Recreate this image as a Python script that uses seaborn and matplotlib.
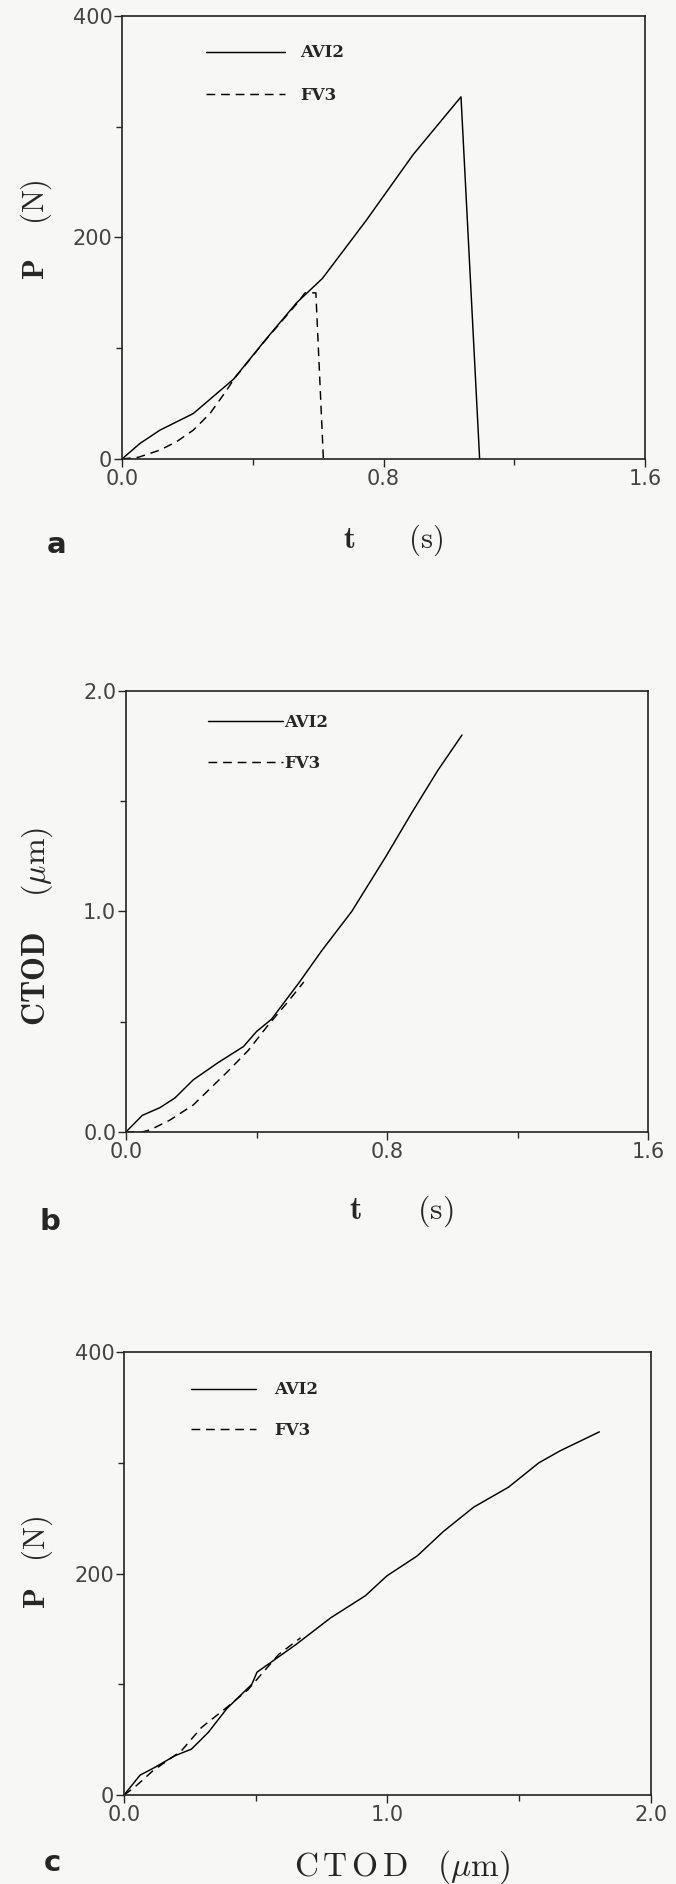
import numpy as np
import pandas as pd
import seaborn as sns
import matplotlib.pyplot as plt
from matplotlib.ticker import MultipleLocator, FormatStrFormatter

sns.set_style('ticks')
plt.rcParams['font.family'] = ['DejaVu Sans']
plt.rcParams['mathtext.fontset'] = 'cm'

# panel a: load P (N) against time t (s)
t_avi2_a = [0, 0.055, 0.116, 0.218, 0.341, 0.44, 0.534, 0.613, 0.746, 0.891, 1.037, 1.094]
p_avi2_a = [0, 14, 26, 41, 72, 108, 141, 163, 215, 275, 327, 0]
t_fv3_a = [0, 0.05, 0.116, 0.167, 0.218, 0.269, 0.32, 0.342, 0.441, 0.534, 0.56, 0.593, 0.616]
p_fv3_a = [0, 1.5, 8, 15.6, 26, 41, 62, 72, 108, 140, 150, 150, 0]

# panel b: CTOD (um) against time t (s)
t_avi2_b = [0, 0.05, 0.104, 0.15, 0.206, 0.282, 0.36, 0.4, 0.446, 0.532, 0.599, 0.692, 0.797, 0.877, 0.956, 1.03]
c_avi2_b = [0, 0.075, 0.11, 0.154, 0.236, 0.314, 0.387, 0.455, 0.511, 0.68, 0.82, 1.0, 1.25, 1.45, 1.64, 1.80]
t_fv3_b = [0, 0.05, 0.074, 0.135, 0.206, 0.309, 0.375, 0.435, 0.494, 0.545]
c_fv3_b = [0, 0, 0.009, 0.054, 0.122, 0.27, 0.37, 0.483, 0.586, 0.68]

# panel c: load P (N) against CTOD (um)
c_avi2_c = [0, 0.061, 0.117, 0.193, 0.256, 0.32, 0.39, 0.485, 0.505, 0.653, 0.784, 0.916, 0.998,
            1.113, 1.212, 1.327, 1.459, 1.574, 1.656, 1.804]
p_avi2_c = [0, 18, 25, 35.5, 41.5, 56.6, 78, 100, 111, 136, 160, 180, 198,
            216, 238, 260, 278, 300, 311, 328]
c_fv3_c = [0, 0.04, 0.11, 0.218, 0.294, 0.384, 0.47, 0.587, 0.67]
p_fv3_c = [0, 7, 22, 40, 61, 78, 95, 127, 142]

TICK_COLOR = '#444444'


def make_df(x1, y1, x2, y2):
    d1 = pd.DataFrame({'x': x1, 'y': y1, 'specimen': 'AVI2'})
    d2 = pd.DataFrame({'x': x2, 'y': y2, 'specimen': 'FV3'})
    return d1, d2


def draw_panel(ax, d1, d2, xmax, ymax, xmaj, ymaj, leg_pos, handlelength, textpad, spacing):
    sns.lineplot(data=d1, x='x', y='y', ax=ax, color='k', lw=1.05, sort=False,
                 estimator=None, label='AVI2')
    sns.lineplot(data=d2, x='x', y='y', ax=ax, color='k', lw=1.05, sort=False,
                 estimator=None, label='FV3', linestyle=(0, (6, 4)))
    ax.set_xlim(0, xmax)
    ax.set_ylim(0, ymax)
    ax.xaxis.set_major_locator(MultipleLocator(xmaj))
    ax.xaxis.set_minor_locator(MultipleLocator(xmaj / 2))
    ax.yaxis.set_major_locator(MultipleLocator(ymaj))
    ax.yaxis.set_minor_locator(MultipleLocator(ymaj / 2))
    ax.tick_params(which='major', length=5.5, width=1.0, direction='out',
                   labelsize=15, labelcolor=TICK_COLOR, pad=1.5)
    ax.tick_params(which='minor', length=4, width=1.0, direction='out')
    for sp in ax.spines.values():
        sp.set_visible(True)
        sp.set_linewidth(1.2)
        sp.set_color('#222222')
    ax.set_facecolor('none')
    ax.legend(loc='upper left', bbox_to_anchor=leg_pos, frameon=False,
              borderpad=0, borderaxespad=0, handlelength=handlelength,
              handletextpad=textpad, labelspacing=spacing,
              prop={'family': 'DejaVu Serif', 'weight': 'bold', 'size': 12})


def place_labels(ax, xlab, ylab, xsize, ysize, xpos, ypos):
    ax.set_xlabel(xlab, fontsize=xsize)
    ax.set_ylabel(ylab, fontsize=ysize)
    ax.xaxis.label.set_va('center')
    ax.yaxis.label.set_va('center')
    ax.xaxis.set_label_coords(*xpos)
    ax.yaxis.set_label_coords(*ypos)


fig = plt.figure(figsize=(6.76, 18.84), dpi=100, facecolor='#f7f8f5')

# a
ax_a = fig.add_axes([0.1805, 0.7564, 0.7737, 0.2351])
da1, da2 = make_df(t_avi2_a, p_avi2_a, t_fv3_a, p_fv3_a)
draw_panel(ax_a, da1, da2, 1.6, 400, 0.8, 200, (0.161, 0.936), 4.7, 0.96, 1.54)
ax_a.xaxis.set_major_formatter(FormatStrFormatter('%.1f'))
ax_a.yaxis.set_major_formatter(FormatStrFormatter('%d'))
place_labels(ax_a, r'$\mathbf{t}\qquad\mathrm{(s)}$', r'$\mathbf{P}\quad\;\mathrm{(N)}$',
             22, 22, (0.518, -0.183), (-0.163, 0.517))

# b
ax_b = fig.add_axes([0.1864, 0.3992, 0.7722, 0.2341])
db1, db2 = make_df(t_avi2_b, c_avi2_b, t_fv3_b, c_fv3_b)
draw_panel(ax_b, db1, db2, 1.6, 2.0, 0.8, 1.0, (0.157, 0.947), 4.5, 0.05, 1.42)
ax_b.xaxis.set_major_formatter(FormatStrFormatter('%.1f'))
ax_b.yaxis.set_major_formatter(FormatStrFormatter('%.1f'))
place_labels(ax_b, r'$\mathbf{t}\qquad\mathrm{(s)}$',
             r'$\mathbf{CTOD}\quad\;\mathrm{(}\mu\mathrm{m)}$',
             23, 23, (0.527, -0.179), (-0.170, 0.466))

# c
ax_c = fig.add_axes([0.1834, 0.0472, 0.7796, 0.2351])
dc1, dc2 = make_df(c_avi2_c, p_avi2_c, c_fv3_c, p_fv3_c)
draw_panel(ax_c, dc1, dc2, 2.0, 400, 1.0, 200, (0.127, 0.934), 3.9, 1.08, 1.42)
ax_c.xaxis.set_major_formatter(FormatStrFormatter('%.1f'))
ax_c.yaxis.set_major_formatter(FormatStrFormatter('%d'))
place_labels(ax_c, r'$\mathrm{C\/T\/O\/D}\quad\mathrm{(}\mu\mathrm{m)}$', r'$\mathbf{P}\quad\mathrm{(N)}$',
             24, 22, (0.527, -0.163), (-0.165, 0.526))

# panel letters
for letter, (x, y) in zip(['a', 'b', 'c'], [(0.0843, 0.7107), (0.074, 0.3514), (0.0769, 0.0111)]):
    fig.text(x, y, letter, fontsize=21, fontweight='bold', ha='center', va='center',
             family='DejaVu Sans')

fig.savefig('out.png', dpi=100, facecolor=fig.get_facecolor())
